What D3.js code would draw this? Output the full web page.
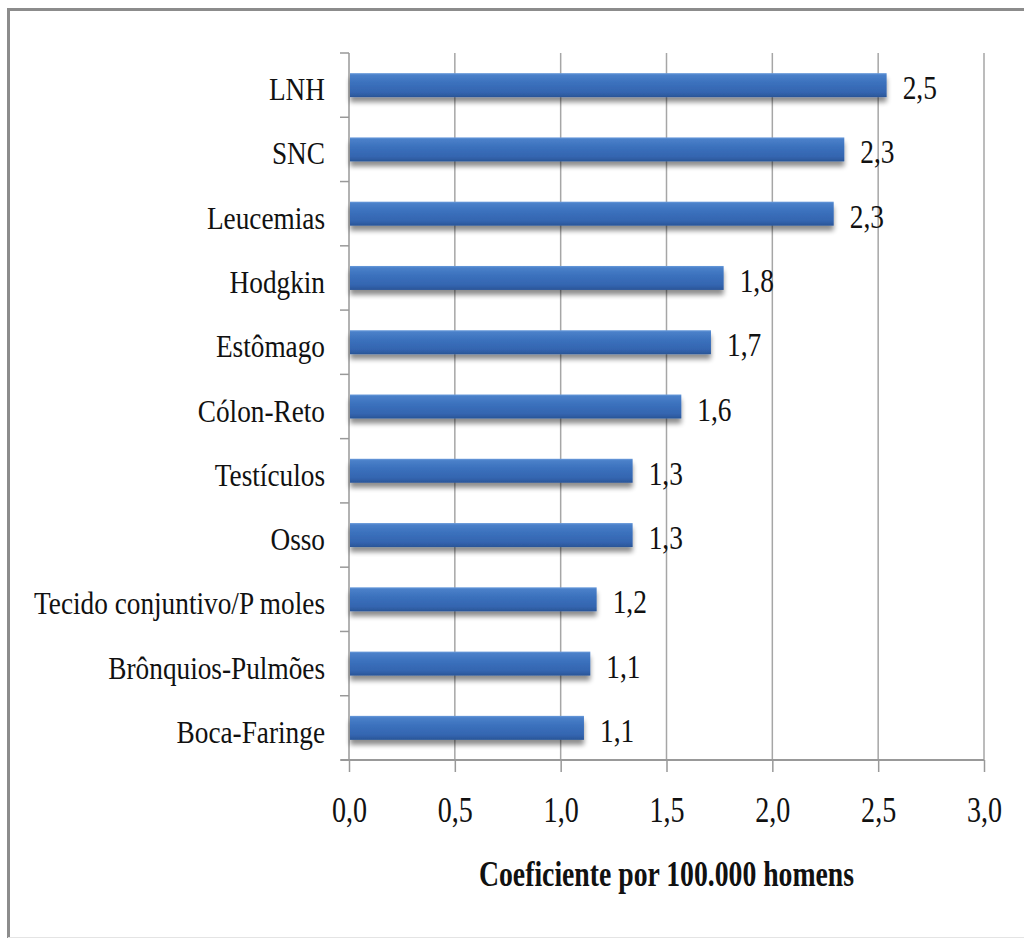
<!DOCTYPE html>
<html><head><meta charset="utf-8">
<script src="https://cdn.jsdelivr.net/npm/d3@7"></script>
<style>html,body{margin:0;padding:0;background:#fff;}svg{display:block;}</style>
</head><body>
<svg id="c" width="1024" height="938"></svg>
<script>
const categories = ["LNH","SNC","Leucemias","Hodgkin","Estômago","Cólon-Reto","Testículos","Osso","Tecido conjuntivo/P moles","Brônquios-Pulmões","Boca-Faringe"];
const values = [2.54, 2.34, 2.29, 1.77, 1.71, 1.57, 1.34, 1.34, 1.17, 1.14, 1.11];
const valueLabels = ["2,5","2,3","2,3","1,8","1,7","1,6","1,3","1,3","1,2","1,1","1,1"];
const xTicks = [0, 0.5, 1.0, 1.5, 2.0, 2.5, 3.0];
const xTitle = "Coeficiente por 100.000 homens";

(function(){
const svg = d3.select("#c");
const W = 1024, H = 938;
const pL = 349, pR = 984, pT = 53, pB = 760;
const font = "Liberation Serif";

// frame
svg.append("line").attr("x1",7).attr("x2",W).attr("y1",9.5).attr("y2",9.5).attr("stroke","#8c8c8c").attr("stroke-width",3);
svg.append("line").attr("x1",8.5).attr("x2",8.5).attr("y1",8).attr("y2",H).attr("stroke","#8c8c8c").attr("stroke-width",3);
svg.append("line").attr("x1",8).attr("x2",W).attr("y1",937.5).attr("y2",937.5).attr("stroke","#e4e4e4").attr("stroke-width",1);

const defs = svg.append("defs");
const grad = defs.append("linearGradient").attr("id","barG").attr("x1",0).attr("x2",0).attr("y1",0).attr("y2",1);
[[0,"#6a9bdb"],[0.08,"#4a80c9"],[0.4,"#3b71bd"],[0.8,"#3465b0"],[1,"#2a5597"]].forEach(s=>grad.append("stop").attr("offset",s[0]).attr("stop-color",s[1]));
const f = defs.append("filter").attr("id","sh").attr("x","-5%").attr("y","-30%").attr("width","110%").attr("height","190%");
f.append("feGaussianBlur").attr("in","SourceAlpha").attr("stdDeviation",2.5).attr("result","b");
f.append("feOffset").attr("in","b").attr("dx",0).attr("dy",5).attr("result","o");
f.append("feComponentTransfer").attr("in","o").attr("result","o2").append("feFuncA").attr("type","linear").attr("slope",0.45);
const fm = f.append("feMerge"); fm.append("feMergeNode").attr("in","o2"); fm.append("feMergeNode").attr("in","SourceGraphic");

const x = d3.scaleLinear().domain([0,3]).range([pL,pR]);
const pad = 0.627;
const y = d3.scaleBand().domain(categories).range([pT,pB]).paddingInner(pad).paddingOuter(pad/2);

// gridlines
svg.append("g").selectAll("line").data(xTicks.filter(d=>d>0)).join("line")
  .attr("x1",d=>x(d)).attr("x2",d=>x(d)).attr("y1",pT).attr("y2",pB)
  .attr("stroke","#a6a6a6").attr("stroke-width",1.5);

// x axis
const xAxis = svg.append("g").attr("transform",`translate(0,${pB})`)
  .call(d3.axisBottom(x).tickValues(xTicks).tickSize(12).tickPadding(0).tickFormat(d=>d3.format(".1f")(d).replace(".",",")));
xAxis.select(".domain").remove();
xAxis.selectAll(".tick line").attr("stroke","#999").attr("stroke-width",1.5);
xAxis.selectAll(".tick text").attr("fill","#111").attr("font-family",font).attr("font-size",36)
  .attr("y",0).attr("dy",0)
  .attr("transform","translate(0,62) scale(0.78,1)");
svg.append("line").attr("x1",341).attr("x2",pR).attr("y1",pB).attr("y2",pB).attr("stroke","#999").attr("stroke-width",2);

// y axis line and ticks
svg.append("line").attr("x1",pL).attr("x2",pL).attr("y1",pT).attr("y2",pB).attr("stroke","#999").attr("stroke-width",1.5);
const bounds = categories.map(c=>y(c)-y.step()*pad/2).concat([pB]);
svg.append("g").selectAll("line").data(bounds).join("line")
  .attr("x1",340).attr("x2",pL).attr("y1",d=>d).attr("y2",d=>d).attr("stroke","#999").attr("stroke-width",1.5);

// bars
svg.append("g").selectAll("rect").data(values).join("rect")
  .attr("x",x(0)+1).attr("y",(d,i)=>y(categories[i]))
  .attr("width",d=>x(d)-x(0)-1).attr("height",y.bandwidth())
  .attr("fill","url(#barG)").attr("filter","url(#sh)");

// category labels
svg.append("g").selectAll("text").data(categories).join("text")
  .attr("transform",d=>`translate(325,${y(d)+y.bandwidth()/2+15}) scale(0.88,1)`)
  .attr("text-anchor","end").attr("font-family",font).attr("font-size",31).attr("fill","#111").text(d=>d);

// value labels
svg.append("g").selectAll("text").data(values).join("text")
  .attr("transform",(d,i)=>`translate(${x(d)+16},${y(categories[i])+y.bandwidth()/2+14}) scale(0.83,1)`)
  .attr("font-family",font).attr("font-size",33).attr("fill","#111").text((d,i)=>valueLabels[i]);

// title
svg.append("text").attr("transform",`translate(${(pL+pR)/2},886) scale(0.77,1)`)
  .attr("text-anchor","middle").attr("font-family",font).attr("font-weight","bold").attr("font-size",36).attr("fill","#111").text(xTitle);
})();
</script>
</body></html>
